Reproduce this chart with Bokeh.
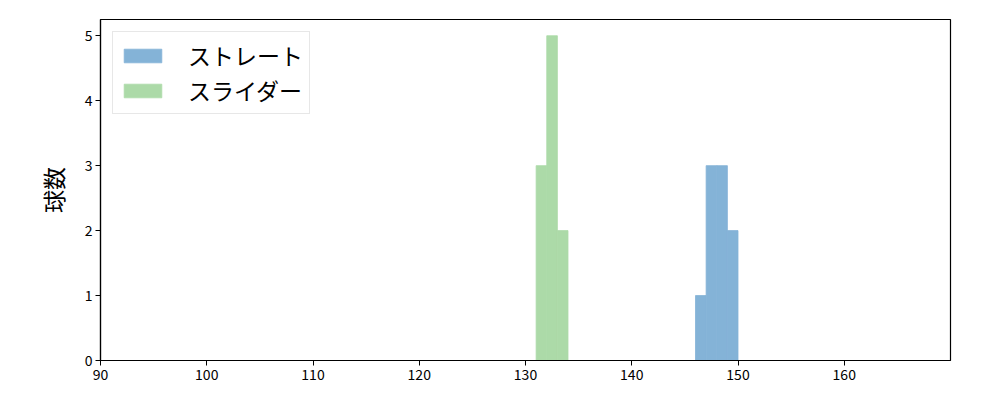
from bokeh.plotting import figure
from bokeh.embed import file_html
from bokeh.resources import INLINE
from bokeh.models import Range1d, FixedTicker, Legend

# Data: histogram bins (left edges, width 1) and counts
straight_left = [146, 147, 148, 149]
straight_counts = [1, 3, 3, 2]
slider_left = [131, 132, 133]
slider_counts = [3, 5, 2]
bin_width = 1
labels = ["ストレート", "スライダー"]
x_ticks = [90, 100, 110, 120, 130, 140, 150, 160]
y_ticks = [0, 1, 2, 3, 4, 5]

FONT = "Noto Sans CJK JP"
BLUE = "#84b3d7"
GREEN = "#acdaa8"

p = figure(width=992, height=392, output_backend="svg", toolbar_location=None,
           x_range=Range1d(90, 170), y_range=Range1d(0, 5.25),
           min_border_left=100, min_border_right=42, min_border_top=19, min_border_bottom=32)
p.grid.visible = False
p.outline_line_color = "black"
p.outline_line_width = 1.2

r1 = p.quad(left=straight_left, right=[x + bin_width for x in straight_left],
            bottom=0, top=straight_counts, fill_color=BLUE, line_color=BLUE, line_width=0.8)
r2 = p.quad(left=slider_left, right=[x + bin_width for x in slider_left],
            bottom=0, top=slider_counts, fill_color=GREEN, line_color=GREEN, line_width=0.8)

for ax in (p.xaxis[0], p.yaxis[0]):
    ax.major_label_text_font = FONT
    ax.major_label_text_font_size = "14px"
    ax.major_label_text_color = "black"
    ax.minor_tick_line_color = None
    ax.major_tick_in = 0
    ax.major_tick_out = 5
    ax.major_tick_line_color = "black"
    ax.axis_line_color = "black"
    ax.axis_line_width = 1.2
    ax.major_label_standoff = 3
p.xaxis.ticker = FixedTicker(ticks=x_ticks)
p.yaxis.ticker = FixedTicker(ticks=y_ticks)
p.yaxis.axis_label = "球数"
p.yaxis.axis_label_text_font = FONT
p.yaxis.axis_label_text_font_size = "23px"
p.yaxis.axis_label_text_font_style = "normal"
p.yaxis.axis_label_text_color = "black"
p.yaxis.axis_label_standoff = 12

legend = Legend(items=[(labels[0], [r1]), (labels[1], [r2])], location="top_left")
legend.margin = 12
legend.padding = 6
legend.spacing = 1
legend.glyph_width = 47
legend.glyph_height = 17
legend.label_standoff = 22
legend.label_text_font = FONT
legend.label_text_font_size = "23px"
legend.label_text_color = "black"
legend.label_height = 27
legend.border_line_color = "#d0d0d0"
legend.border_line_width = 1
legend.background_fill_alpha = 0.8
p.add_layout(legend)

open("out.html", "w").write(file_html(p, INLINE))
